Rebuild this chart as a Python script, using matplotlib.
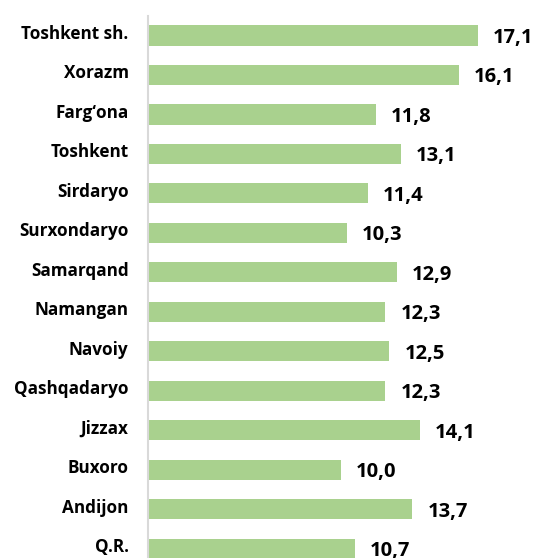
import matplotlib.pyplot as plt
from matplotlib.transforms import ScaledTranslation

regions = ["Toshkent sh.", "Xorazm", "Farg\u2018ona", "Toshkent", "Sirdaryo",
           "Surxondaryo", "Samarqand", "Namangan", "Navoiy", "Qashqadaryo",
           "Jizzax", "Buxoro", "Andijon", "Q.R."]
values = [17.1, 16.1, 11.8, 13.1, 11.4, 10.3, 12.9, 12.3, 12.5, 12.3,
          14.1, 10.0, 13.7, 10.7]

plt.rcParams['font.family'] = ['Open Sans', 'DejaVu Sans']

fig = plt.figure(figsize=(5.38, 5.58), dpi=100)
ax = fig.add_axes([148/538, 0, 1 - 148/538, 542/558])

pos = list(range(len(regions)))
ax.barh(pos, values, height=0.51, color="#A9D18E", edgecolor="none")

for yy, v in zip(pos, values):
    ax.text(v + 0.78, yy + 0.06, f"{v:.1f}".replace(".", ","), va="center", ha="left",
            fontsize=14.5, fontweight="bold", color="black")

ax.set_yticks(pos)
ax.set_yticklabels(regions, fontsize=12.3, fontweight="bold")
ax.tick_params(axis="y", length=0, pad=14)
# nudge category labels up a little
for lab in ax.get_yticklabels():
    lab.set_transform(lab.get_transform() + ScaledTranslation(0, 2.5/72, fig.dpi_scale_trans))
ax.set_xticks([])
ax.set_xlim(0, 390/19.3)
ax.set_ylim(13 + 0.238, -0.494)

for s in ["top", "right", "bottom"]:
    ax.spines[s].set_visible(False)
ax.spines["left"].set_color("#D9D9D9")
ax.spines["left"].set_linewidth(1.5)

fig.savefig("out.png", dpi=100)
